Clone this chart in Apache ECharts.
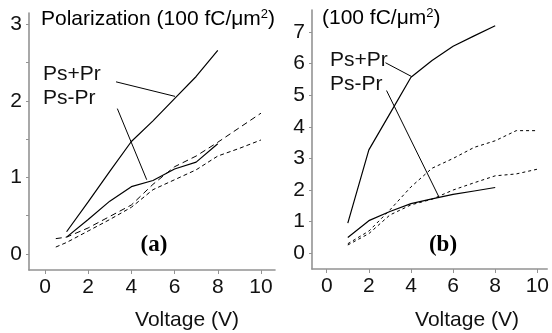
<!DOCTYPE html>
<html>
<head>
<meta charset="utf-8">
<script src="https://cdn.jsdelivr.net/npm/echarts@6/dist/echarts.min.js"></script>
<style>
  html, body { margin: 0; padding: 0; background: #fff; }
  #chart { width: 552px; height: 333px; }
</style>
</head>
<body>
<div id="chart"></div>
<script>
// panel (a)
const voltsSolidA = [1, 2, 3, 4, 5, 6, 7, 8];
const psPlusPrA = [0.29, 0.68, 1.08, 1.47, 1.74, 2.03, 2.32, 2.66];
const psMinusPrA = [0.22, 0.45, 0.69, 0.88, 0.96, 1.11, 1.2, 1.44];
const voltsDashA = [0.5, 1, 2, 3, 4, 5, 6, 7, 8, 9, 10];
const dashUpperA = [0.2, 0.22, 0.34, 0.49, 0.64, 0.91, 1.14, 1.28, 1.46, 1.65, 1.84];
const dashLowerA = [0.09, 0.15, 0.3, 0.45, 0.61, 0.84, 0.97, 1.1, 1.28, 1.38, 1.49];
const leaderPlusA = [[3.29, 2.25], [6.02, 2.06]];
const leaderMinusA = [[3.35, 1.9], [4.71, 0.97]];

// panel (b)
const voltsSolidB = [1, 2, 3, 4, 5, 6, 7, 8];
const psPlusPrB = [0.95, 3.27, 4.42, 5.57, 6.1, 6.55, 6.88, 7.2];
const psMinusPrB = [0.5, 1.03, 1.32, 1.57, 1.72, 1.86, 1.97, 2.08];
const voltsDashB = [1, 2, 3, 4, 5, 6, 7, 8, 9, 10];
const dashUpperB = [0.3, 0.7, 1.37, 2.1, 2.69, 3.0, 3.35, 3.56, 3.88, 3.88];
const dashLowerB = [0.26, 0.62, 1.21, 1.53, 1.71, 2.0, 2.23, 2.45, 2.51, 2.66];
const leaderPlusB = [[2.79, 6.03], [4.04, 5.59]];
const leaderMinusB = [[2.84, 5.15], [5.32, 1.79]];

const xTicks = [0, 2, 4, 6, 8, 10];
const yTicksA = [0, 0.5, 1, 1.5, 2, 2.5, 3];
const yLabelsA = [0, 1, 2, 3];
const yTicksB = [0, 1, 2, 3, 4, 5, 6, 7];

const FONT = "'Liberation Sans', Arial, sans-serif";
const AXIS_GREY = "#939393";
const FS = 21;

const pairs = (xs, ys) => xs.map((x, i) => [x, ys[i]]);

const xAxisOf = (gridIndex, min, max) => ({
  type: "value",
  gridIndex,
  min,
  max,
  axisLine: { show: true, onZero: false, lineStyle: { color: AXIS_GREY, width: 1.6 } },
  axisTick: { show: true, customValues: xTicks, length: 4, lineStyle: { color: AXIS_GREY, width: 1 } },
  axisLabel: {
    show: true,
    customValues: xTicks,
    margin: 7,
    fontSize: FS,
    fontFamily: FONT,
    color: "#111",
  },
  splitLine: { show: false },
});

const yAxisOf = (gridIndex, min, max, ticks, labels) => ({
  type: "value",
  gridIndex,
  min,
  max,
  axisLine: { show: true, onZero: false, lineStyle: { color: AXIS_GREY, width: 1.6 } },
  axisTick: { show: true, customValues: ticks, length: 3, lineStyle: { color: AXIS_GREY, width: 1 } },
  axisLabel: {
    show: true,
    customValues: labels,
    margin: 7,
    fontSize: FS,
    fontFamily: FONT,
    color: "#111",
  },
  splitLine: { show: false },
});

const lineSeries = (idx, data, type, width) => ({
  type: "line",
  xAxisIndex: idx,
  yAxisIndex: idx,
  data,
  symbol: "none",
  silent: true,
  lineStyle: { color: "#000", width, type },
});

const chart = echarts.init(document.getElementById("chart"));

const textStyle = { fontFamily: FONT, fontSize: FS, fill: "#111" };
const supRich = {
  a: { fontFamily: FONT, fontSize: FS, color: "#111" },
  s: { fontFamily: FONT, fontSize: 13, color: "#111", verticalAlign: "top", padding: [0, 0, 9, 0] },
};

chart.setOption({
  animation: false,
  grid: [
    { left: 29, top: 13, width: 246, height: 257 },
    { left: 312, top: 10, width: 240, height: 259 },
  ],
  xAxis: [xAxisOf(0, -0.74, 10.65), xAxisOf(1, -0.7, 10.47)],
  yAxis: [
    yAxisOf(0, -0.21, 3.15, yTicksA, yLabelsA),
    yAxisOf(1, -0.5, 7.7, yTicksB, yTicksB),
  ],
  series: [
    lineSeries(0, pairs(voltsSolidA, psPlusPrA), "solid", 1.2),
    lineSeries(0, pairs(voltsSolidA, psMinusPrA), "solid", 1.2),
    lineSeries(0, pairs(voltsDashA, dashUpperA), [6, 4], 1),
    lineSeries(0, pairs(voltsDashA, dashLowerA), [4, 3], 1),
    lineSeries(0, leaderPlusA, "solid", 1),
    lineSeries(0, leaderMinusA, "solid", 1),
    lineSeries(1, pairs(voltsSolidB, psPlusPrB), "solid", 1.2),
    lineSeries(1, pairs(voltsSolidB, psMinusPrB), "solid", 1.2),
    lineSeries(1, pairs(voltsDashB, dashUpperB), [3, 3], 1),
    lineSeries(1, pairs(voltsDashB, dashLowerB), [3, 3], 1),
    lineSeries(1, leaderPlusB, "solid", 1),
    lineSeries(1, leaderMinusB, "solid", 1),
  ],
  graphic: [
    {
      type: "text", left: 41, top: 8,
      style: {
        text: "{a|Polarization (100 fC/μm}{s|2}{a|)}",
        rich: supRich,
      },
    },
    {
      type: "text", left: 322, top: 7,
      style: { text: "{a|(100 fC/μm}{s|2}{a|)}", rich: supRich },
    },
    { type: "text", left: 43, top: 64, style: { ...textStyle, text: "Ps+Pr" } },
    { type: "text", left: 43, top: 88, style: { ...textStyle, text: "Ps-Pr" } },
    { type: "text", left: 330, top: 50, style: { ...textStyle, text: "Ps+Pr" } },
    { type: "text", left: 330, top: 74, style: { ...textStyle, text: "Ps-Pr" } },
    {
      type: "text", x: 154, y: 245,
      style: {
        text: "(a)", font: "bold 23px 'Liberation Serif', 'Times New Roman', serif",
        fill: "#000", align: "center", verticalAlign: "middle",
      },
    },
    {
      type: "text", x: 443, y: 245,
      style: {
        text: "(b)", font: "bold 23px 'Liberation Serif', 'Times New Roman', serif",
        fill: "#000", align: "center", verticalAlign: "middle",
      },
    },
    {
      type: "text", x: 187, y: 320,
      style: { ...textStyle, text: "Voltage (V)", align: "center", verticalAlign: "middle" },
    },
    {
      type: "text", x: 467, y: 320,
      style: { ...textStyle, text: "Voltage (V)", align: "center", verticalAlign: "middle" },
    },
  ],
});
</script>
</body>
</html>
